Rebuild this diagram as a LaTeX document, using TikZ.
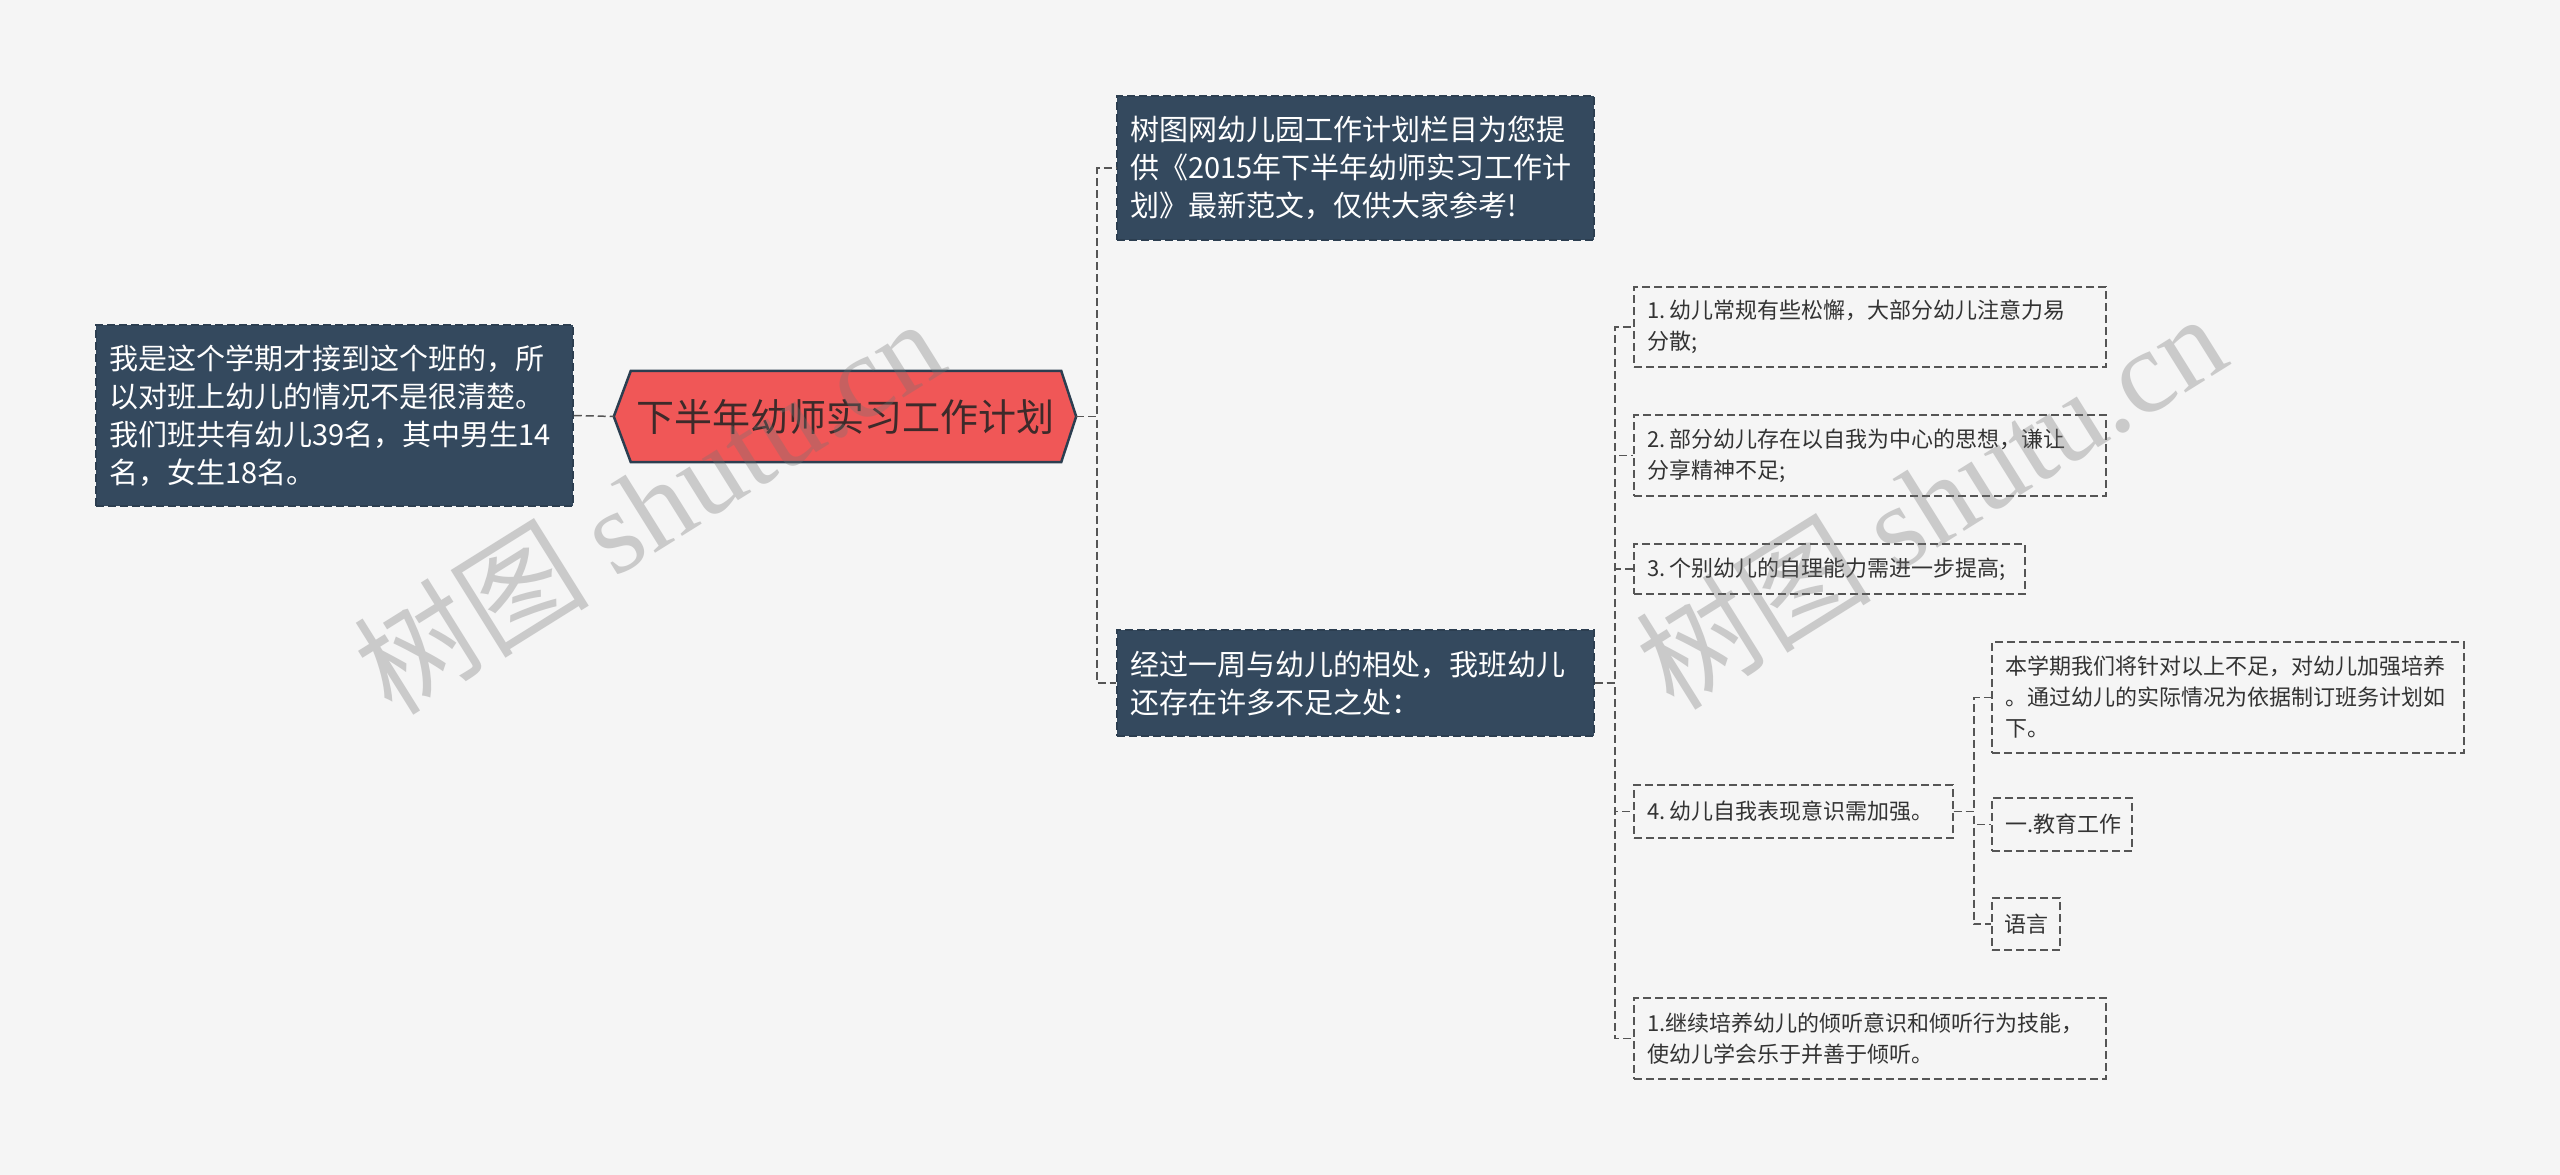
\documentclass[tikz,border=0pt]{standalone}
\usepackage{fontspec}
\setmainfont{Noto Sans CJK SC}
\newfontfamily\wmlatin{Liberation Serif}
\newfontfamily\wmcjk{Noto Sans CJK SC}
\usetikzlibrary{backgrounds,calc}
\definecolor{bgc}{HTML}{F5F5F5}
\definecolor{darkfill}{HTML}{34495E}
\definecolor{darkline}{HTML}{2C3E50}
\definecolor{rootfill}{HTML}{F05757}
\definecolor{roottext}{HTML}{3D2A2A}
\definecolor{connc}{HTML}{555555}
\definecolor{txt}{HTML}{333333}
\tikzset{
  dashline/.style={dash pattern=on 8pt off 4pt, line width=1.5pt},
  darkbox/.style={rectangle, fill=darkfill, draw=darkline, dashline, text=white,
    align=left, inner xsep=13pt, inner ysep=3pt, font=\fontsize{29}{38}\selectfont},
  lightbox/.style={rectangle, draw=connc, dashline, text=txt,
    align=left, inner xsep=13pt, inner ysep=3pt, font=\fontsize{22}{31}\selectfont},
  conn/.style={draw=connc, dashline},
  rootnode/.style={rectangle, inner sep=0pt, text=roottext, font=\fontsize{38}{46}\selectfont},
  wm/.style={text=black!55, opacity=0.33, rotate=32, inner sep=0pt}
}
\newcommand{\nsp}{\kern0.18em}
\begin{document}
\begin{tikzpicture}[x=1pt,y=-1pt]
\begin{pgfonlayer}{background}
  \fill[bgc] (0,0) rectangle (2560,1175);
\end{pgfonlayer}
\useasboundingbox (0,0) rectangle (2560,1175);

% root
\node[rootnode, minimum width=462pt, minimum height=91pt] (root) at (845,416.5) {下半年幼师实习工作计划};
\begin{pgfonlayer}{background}
  \filldraw[fill=rootfill, draw=darkline, line width=2.5pt, line join=miter]
    (root.west) -- ($(root.north west)+(17,0)$) -- ($(root.north east)+(-15,0)$) -- (root.east)
    -- ($(root.south east)+(-15,0)$) -- ($(root.south west)+(17,0)$) -- cycle;
\end{pgfonlayer}

% level 1
\node[darkbox, minimum width=477pt, minimum height=181pt, text width=451pt] (left) at (334.5,415.5)
  {我是这个学期才接到这个班的，所\\以对班上幼儿的情况不是很清楚。\\我们班共有幼儿39名，其中男生14\\名，女生18名。};
\node[darkbox, minimum width=477pt, minimum height=144pt, text width=451pt] (top) at (1355.5,168)
  {树图网幼儿园工作计划栏目为您提\\供《2015年下半年幼师实习工作计\\划》最新范文，仅供大家参考!};
\node[darkbox, minimum width=477pt, minimum height=106pt, text width=451pt] (mid) at (1355.5,683)
  {经过一周与幼儿的相处，我班幼儿\\还存在许多不足之处：};

% level 2
\node[lightbox, minimum width=472pt, minimum height=80pt, text width=446pt] (i1) at (1870,327)
  {1.\nsp 幼儿常规有些松懈，大部分幼儿注意力易\\分散;};
\node[lightbox, minimum width=472pt, minimum height=81pt, text width=446pt] (i2) at (1870,455.5)
  {2.\nsp 部分幼儿存在以自我为中心的思想，谦让\\分享精神不足;};
\node[lightbox, minimum width=391pt, minimum height=50pt, text width=365pt] (i3) at (1829.5,569)
  {3.\nsp 个别幼儿的自理能力需进一步提高;};
\node[lightbox, minimum width=319pt, minimum height=53pt, text width=293pt] (i4) at (1793.5,811.5)
  {4.\nsp 幼儿自我表现意识需加强。};
\node[lightbox, minimum width=472pt, minimum height=81pt, text width=446pt] (i5) at (1870,1038.5)
  {1.继续培养幼儿的倾听意识和倾听行为技能，\\使幼儿学会乐于并善于倾听。};

% level 3
\node[lightbox, minimum width=472pt, minimum height=111pt, text width=446pt] (ka) at (2228,697.5)
  {本学期我们将针对以上不足，对幼儿加强培养\\。通过幼儿的实际情况为依据制订班务计划如\\下。};
\node[lightbox, minimum width=140pt, minimum height=53pt, text width=114pt] (kb) at (2062,824.5)
  {一.教育工作};
\node[lightbox, minimum width=68pt, minimum height=52pt, text width=44pt, inner xsep=12pt] (kc) at (2026,924)
  {语言};

% connectors
\draw[conn] (left.east) -- (root.west);
\draw[conn] (root.east) -- ++(21,0) |- (top.west);
\draw[conn] (root.east) -- ++(21,0) |- (mid.west);
\draw[conn] (mid.east) -- ++(20,0) |- (i1.west);
\draw[conn] (mid.east) -- ++(20,0) |- (i2.west);
\draw[conn] (mid.east) -- ++(20,0) |- (i3.west);
\draw[conn] (mid.east) -- ++(20,0) |- (i4.west);
\draw[conn] (mid.east) -- ++(20,0) |- (i5.west);
\draw[conn] (i4.east) -- ++(20,0) |- (ka.west);
\draw[conn] (i4.east) -- ++(20,0) |- (kb.west);
\draw[conn] (i4.east) -- ++(20,0) |- (kc.west);

% watermarks
\node[wm] (wm1) at (648,505) {\fontsize{118}{118}\selectfont\wmcjk 树图 \wmlatin shutu.cn};
\node[wm] (wm2) at (1930,500) {\fontsize{118}{118}\selectfont\wmcjk 树图 \wmlatin shutu.cn};
\end{tikzpicture}
\end{document}
